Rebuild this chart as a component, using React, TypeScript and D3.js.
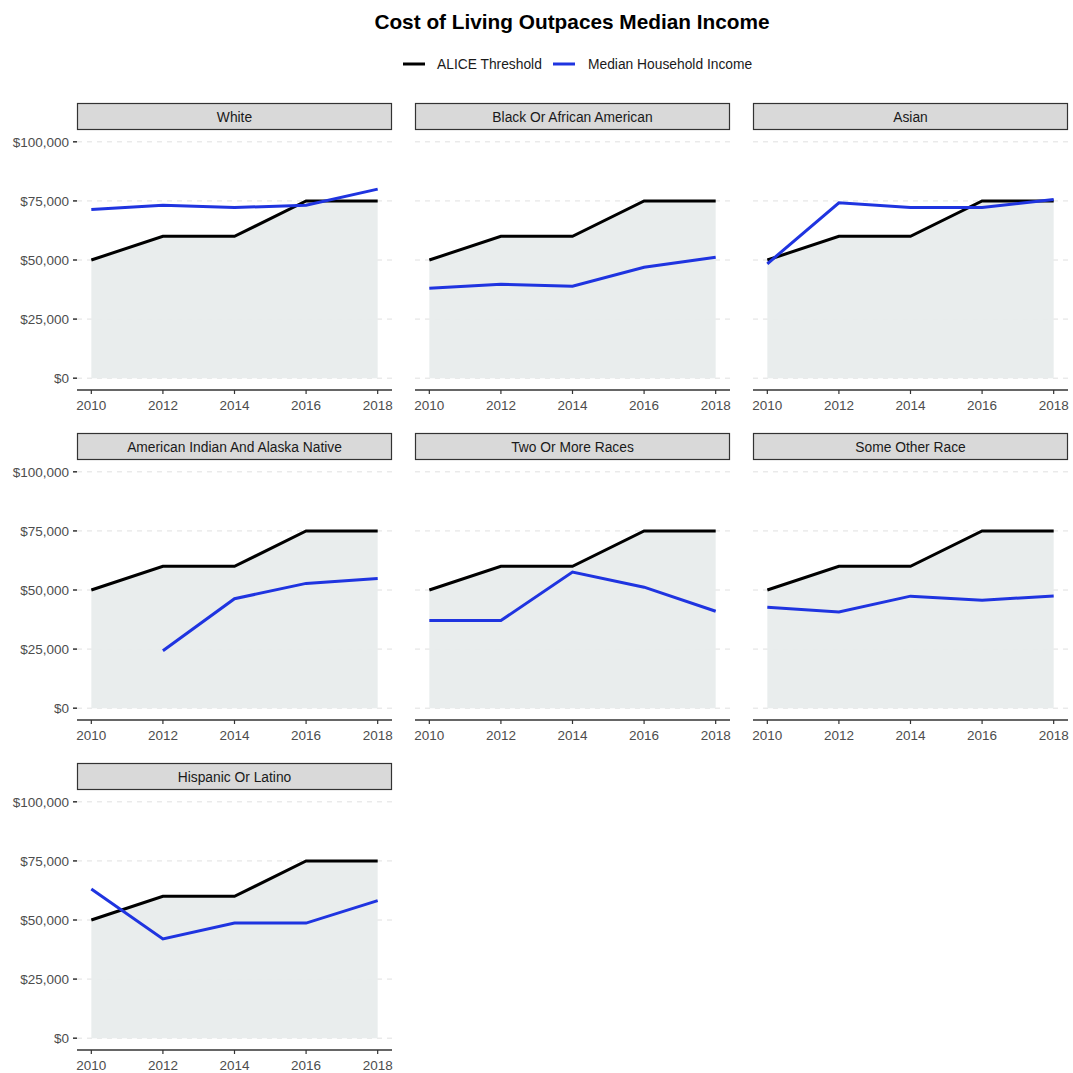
import React from "react";
import * as d3 from "d3";

const years = [2010, 2012, 2014, 2016, 2018];
const aliceThreshold = [50000, 60000, 60000, 75000, 75000];

const groups = [
  "White",
  "Black Or African American",
  "Asian",
  "American Indian And Alaska Native",
  "Two Or More Races",
  "Some Other Race",
  "Hispanic Or Latino",
];

const medianWhite = [71400, 73200, 72200, 73200, 80000];
const medianBlack = [38000, 39700, 38900, 46900, 51200];
const medianAsian = [48400, 74200, 72200, 72200, 75600];
const medianAIAN = [null, 24300, 46300, 52800, 54900];
const medianTwoOrMore = [37100, 37100, 57600, 51200, 41000];
const medianOther = [42700, 40700, 47400, 45700, 47500];
const medianHispanic = [63100, 42000, 48700, 48700, 58200];

const medianSeries: (number | null)[][] = [
  medianWhite,
  medianBlack,
  medianAsian,
  medianAIAN,
  medianTwoOrMore,
  medianOther,
  medianHispanic,
];

const yTicks = [0, 25000, 50000, 75000, 100000];
const yTickLabels = ["$0", "$25,000", "$50,000", "$75,000", "$100,000"];

const FONT = "'Liberation Sans', Arial, Helvetica, sans-serif";

export default function App() {
  const W = 1073;
  const H = 1073;
  const colX0 = 77;
  const colStep = 338;
  const panelW = 315;
  const rowY0 = 103;
  const rowStep = 330;
  const stripH = 27;
  const panelH = 260;

  const x = d3.scaleLinear().domain([2009.6, 2018.4]).range([0, panelW]);
  const y = d3.scaleLinear().domain([-5000, 105000]).range([panelH, 0]);

  const line = d3
    .line<{ yr: number; v: number | null }>()
    .defined((d) => d.v !== null)
    .x((d) => x(d.yr))
    .y((d) => y(d.v as number));

  const area = d3
    .area<{ yr: number; v: number }>()
    .x((d) => x(d.yr))
    .y0(y(0))
    .y1((d) => y(d.v));

  const aliceData = years.map((yr, i) => ({ yr, v: aliceThreshold[i] }));

  return (
    <svg width={W} height={H} style={{ display: "block", position: "absolute", left: 0, top: 0 }}>
      <rect width={W} height={H} fill="#ffffff" />
      <text
        x={572}
        y={29}
        textAnchor="middle"
        fontFamily={FONT}
        fontWeight="bold"
        fontSize={20.8}
        fill="#000"
      >
        Cost of Living Outpaces Median Income
      </text>
      {/* legend */}
      <g fontFamily={FONT} fontSize={13.8} fill="#1a1a1a">
        <line x1={403} x2={425} y1={64} y2={64} stroke="#000" strokeWidth={3} />
        <text x={437} y={69}>ALICE Threshold</text>
        <line x1={553} x2={575} y1={64} y2={64} stroke="#1f34e0" strokeWidth={3} />
        <text x={588} y={69}>Median Household Income</text>
      </g>
      {groups.map((g, gi) => {
        const c = gi % 3;
        const r = Math.floor(gi / 3);
        const px = colX0 + c * colStep;
        const sy = rowY0 + r * rowStep;
        const py = sy + stripH;
        const med = years.map((yr, i) => ({ yr, v: medianSeries[gi][i] }));
        return (
          <g key={g}>
            {/* strip */}
            <rect
              x={px + 0.5}
              y={sy + 0.5}
              width={panelW - 1}
              height={stripH - 1}
              fill="#d9d9d9"
              stroke="#333"
              strokeWidth={1.2}
            />
            <text
              x={px + panelW / 2}
              y={sy + stripH / 2 + 5}
              textAnchor="middle"
              fontFamily={FONT}
              fontSize={13.8}
              fill="#1a1a1a"
            >
              {g}
            </text>
            <g transform={`translate(${px},${py})`}>
              {yTicks.map((t) => (
                <line
                  key={t}
                  x1={0}
                  x2={panelW}
                  y1={y(t)}
                  y2={y(t)}
                  stroke="#e0e0e0"
                  strokeWidth={1}
                  strokeDasharray="5,5"
                />
              ))}
              <path d={area(aliceData) || ""} fill="#e8ecec" opacity={0.95} />
              <path d={line(aliceData) || ""} fill="none" stroke="#000" strokeWidth={3} />
              <path d={line(med) || ""} fill="none" stroke="#1f34e0" strokeWidth={3} />
              {/* x axis */}
              <line x1={0} x2={panelW} y1={panelH} y2={panelH} stroke="#333" strokeWidth={1.5} />
              {years.map((yr) => (
                <g key={yr}>
                  <line x1={x(yr)} x2={x(yr)} y1={panelH} y2={panelH + 4} stroke="#333" strokeWidth={1.2} />
                  <text
                    x={x(yr)}
                    y={panelH + 20}
                    textAnchor="middle"
                    fontFamily={FONT}
                    fontSize={13.5}
                    fill="#4d4d4d"
                  >
                    {yr}
                  </text>
                </g>
              ))}
              {c === 0 &&
                yTicks.map((t, ti) => (
                  <g key={t}>
                    <line x1={-4} x2={0} y1={y(t)} y2={y(t)} stroke="#333" strokeWidth={1.5} />
                    <text
                      x={-8}
                      y={y(t) + 5}
                      textAnchor="end"
                      fontFamily={FONT}
                      fontSize={13.5}
                      fill="#4d4d4d"
                    >
                      {yTickLabels[ti]}
                    </text>
                  </g>
                ))}
            </g>
          </g>
        );
      })}
    </svg>
  );
}
